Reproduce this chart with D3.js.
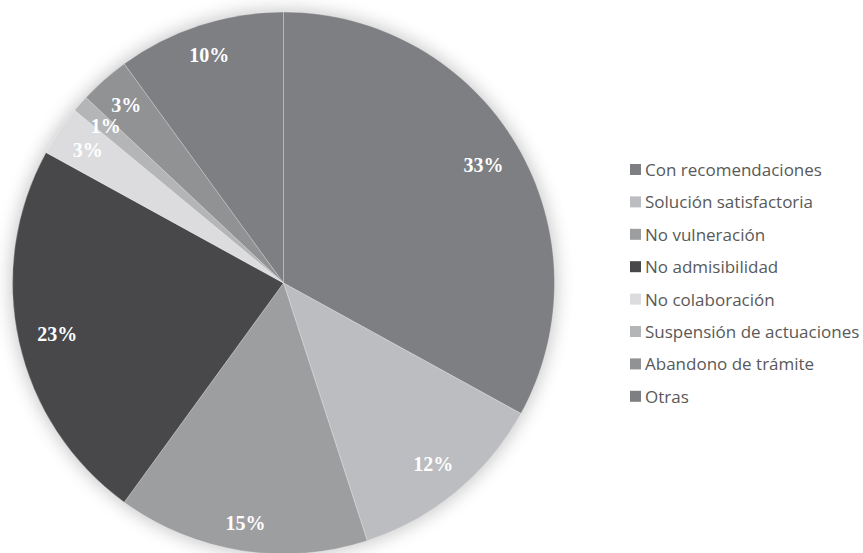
<!DOCTYPE html>
<html>
<head>
<meta charset="utf-8">
<script src="https://cdn.jsdelivr.net/npm/d3@7/dist/d3.min.js"></script>
<style>
  html, body { margin: 0; padding: 0; background: #ffffff; }
  svg { display: block; }
</style>
</head>
<body>
<svg id="chart" width="863" height="553"></svg>
<script>
// Categories, shares (%) and slice colours, clockwise from 12 o'clock
const categories = [
  "Con recomendaciones",
  "Solución satisfactoria",
  "No vulneración",
  "No admisibilidad",
  "No colaboración",
  "Suspensión de actuaciones",
  "Abandono de trámite",
  "Otras"
];
const values = [33, 12, 15, 23, 3, 1, 3, 10];
const colors = ["#7e7f83", "#bcbdc0", "#9d9ea0", "#48484a", "#dcdcde", "#b4b5b7", "#919294", "#7e7f83"];

const data = categories.map((c, i) => ({ name: c, value: values[i], color: colors[i] }));

const svg = d3.select("#chart");
const cx = 283.5, cy = 283, R = 271;

// soft outer shadow around the pie
const defs = svg.append("defs");
defs.append("filter")
  .attr("id", "halo")
  .attr("x", "-20%").attr("y", "-20%").attr("width", "140%").attr("height", "140%")
  .append("feGaussianBlur").attr("stdDeviation", 9);

const g = svg.append("g").attr("transform", `translate(${cx},${cy})`);

g.append("circle")
  .attr("r", R + 2)
  .attr("fill", "#000")
  .attr("opacity", 0.22)
  .attr("filter", "url(#halo)");

const pie = d3.pie().value(d => d.value).sort(null);
const arcs = pie(data);
const arc = d3.arc().innerRadius(0).outerRadius(R);

g.selectAll("path.slice")
  .data(arcs)
  .join("path")
  .attr("class", "slice")
  .attr("d", arc)
  .attr("fill", d => d.data.color)
  .attr("stroke", "rgba(255,255,255,0.35)")
  .attr("stroke-width", 0.8);

// percentage labels placed "inside end": the label box is pushed outwards
// until its outer corner sits a fixed distance inside the rim
const labelReach = 253;
const halfH = 7;
const labels = g.selectAll("text.pct")
  .data(arcs)
  .join("text")
  .attr("class", "pct")
  .attr("text-anchor", "middle")
  .attr("font-family", "'Liberation Serif', 'DejaVu Serif', serif")
  .attr("font-weight", "bold")
  .attr("font-size", 20)
  .attr("fill", "#ffffff")
  .text(d => d.data.value + "%");

labels.each(function(d) {
  const halfW = this.getComputedTextLength() / 2;
  const a = (d.startAngle + d.endAngle) / 2;
  const sx = Math.sin(a), sy = -Math.cos(a);
  const dist = labelReach - (halfW * Math.abs(sx) + halfH * Math.abs(sy));
  d3.select(this)
    .attr("x", dist * sx)
    .attr("y", dist * sy + halfH);
});

// legend
const legend = svg.append("g").attr("transform", "translate(630,164)");
const rowH = 32.4;
const item = legend.selectAll("g.item")
  .data(data)
  .join("g")
  .attr("class", "item")
  .attr("transform", (d, i) => `translate(0,${i * rowH})`);

item.append("rect")
  .attr("width", 11).attr("height", 11)
  .attr("fill", d => d.color);

item.append("text")
  .attr("x", 15)
  .attr("y", 5.5)
  .attr("dominant-baseline", "central")
  .attr("font-family", "'Open Sans', 'Noto Sans', sans-serif")
  .attr("font-size", 17)
  .attr("fill", "#595959")
  .text(d => d.name);
</script>
</body>
</html>
